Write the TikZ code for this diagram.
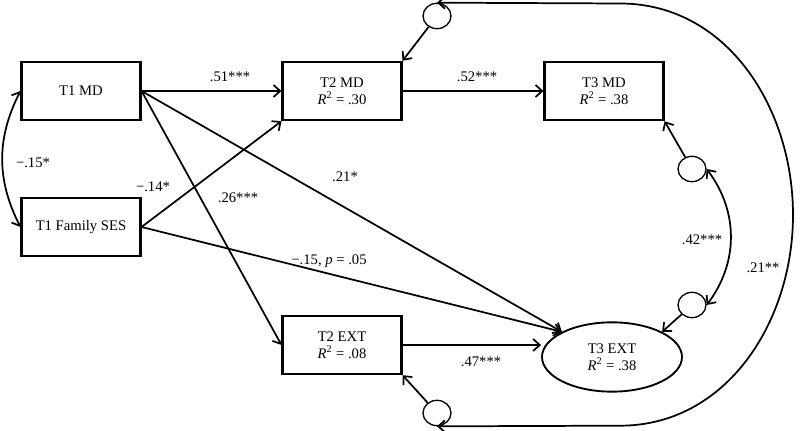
\documentclass[tikz,border=0pt]{standalone}
\usepackage{fontspec}
\setmainfont{Liberation Serif}
\usetikzlibrary{arrows.meta,shapes.geometric}

\tikzset{
	var/.style={draw, line width=1.8pt, minimum width=89pt, minimum height=43.5pt, align=center, inner sep=2pt},
	dvar/.style={draw, ellipse, line width=1.4pt, minimum width=105pt, minimum height=52pt, align=center, inner sep=0pt},
	res/.style={draw, ellipse, line width=1pt, minimum width=21pt, minimum height=19pt, inner sep=0pt},
	effect/.style={->, line width=1.3pt},
	cov/.style={<->, line width=1.3pt},
	lbl/.style={inner sep=1pt},
	>={Straight Barb[length=5pt,width=9pt]}
}

\begin{document}
\begin{tikzpicture}[x=0.75pt, y=0.75pt, font=\fontsize{11}{12.5}\selectfont]
			\useasboundingbox (0,0) rectangle (800,431);
			% observed variables
			\node[var] (t1md) at (81,340) {T1 MD};
			\node[var] (t1ses) at (81,204) {T1 Family SES};
			\node[var] (t2md) at (342,340) {T2 MD\\\textit{R}\textsuperscript{2} = .30};
			\node[var] (t3md) at (604,340) {T3 MD\\\textit{R}\textsuperscript{2} = .38};
			\node[var] (t2ext) at (342,86) {T2 EXT\\\textit{R}\textsuperscript{2} = .08};
			\node[dvar] (t3ext) at (612,74) {T3 EXT\\\textit{R}\textsuperscript{2} = .38};
			% residuals
			\node[res] (e1) at (437,415) {};
			\node[res] (e2) at (692,262) {};
			\node[res] (e3) at (692,126) {};
			\node[res] (e4) at (437,18) {};
			% paths
			\draw[effect] (t1md.east) -- (t2md.west);
			\draw[effect] (t2md.east) -- (t3md.west);
			\draw[effect] (t1md.east) -- (t2ext.west);
			\draw[effect] (t1md.east) -- (t3ext.north west);
			\draw[effect] (t1ses.east) -- (t2md.south west);
			\draw[effect] (t1ses.east) -- (t3ext.north west);
			\draw[effect] (t2ext.east) -- (t2ext.east -| t3ext.west);
			\draw[effect] (e1) -- (t2md.north east);
			\draw[effect] (e2) -- (t3md.south east);
			\draw[effect] (e3) -- (t3ext.north east);
			\draw[effect] (e4) -- (t2ext.south east);
			% covariances
			\draw[cov] (t1md.west) to[bend right=27] (t1ses.west);
			\draw[cov] (e2.east) to[bend left=37] (e3.east);
			\draw[cov] (e1.north) -- (620,427.5) to[out=0,in=90] (793,216) to[out=-90,in=0] (620,5.3) -- (e4.south);
			% estimates
			\node[lbl] (l51) at (230,354) {.51***};
			\node[lbl] (l52) at (477,354) {.52***};
			\node[lbl] (l15) at (33,268) {−.15*};
			\node[lbl] (l14) at (153,244) {−.14*};
			\node[lbl] (l26) at (238,233) {.26***};
			\node[lbl] (l21) at (345,254) {.21*};
			\node[lbl] (l15p) at (329,170) {−.15, \textit{p} = .05};
			\node[lbl] (l47) at (481,69) {.47***};
			\node[lbl] (l42) at (702,191) {.42***};
			\node[lbl] (l21r) at (763,163) {.21**};
			\end{tikzpicture}
\end{document}
